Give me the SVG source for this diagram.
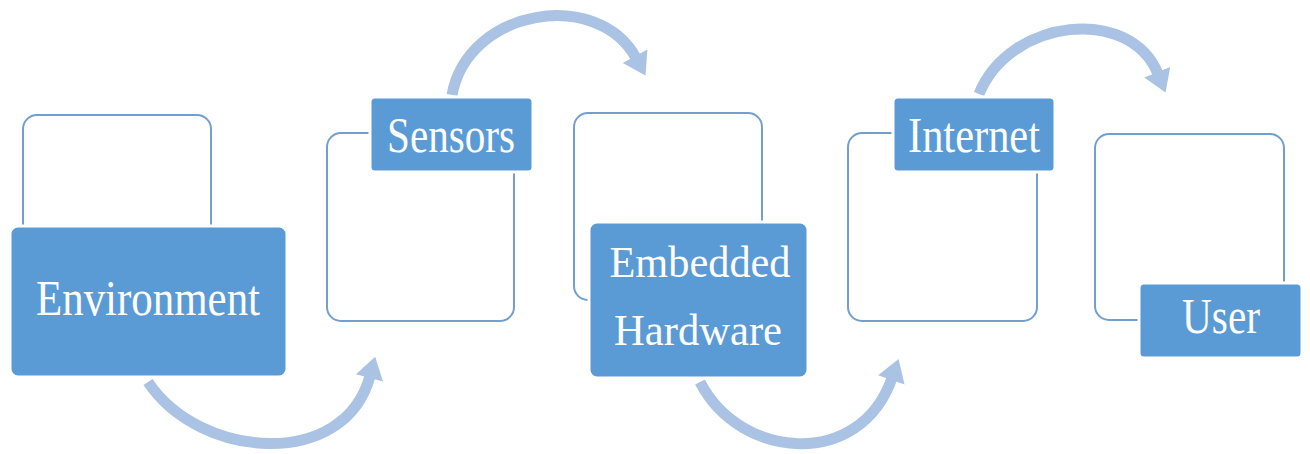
<svg xmlns="http://www.w3.org/2000/svg" width="1310" height="454" viewBox="0 0 1310 454">
<style>
.outline{fill:#ffffff;stroke:#739fcf;stroke-width:2}
.label{fill:#5b9bd5;stroke:#ffffff;stroke-width:3}
.txt{font-family:"Liberation Serif","Times New Roman",serif;fill:#ffffff;text-anchor:middle}
.arrow{fill:none;stroke:#aac3e4;stroke-width:11;marker-end:url(#head)}
</style>
<defs>
<marker id="head" markerUnits="userSpaceOnUse" markerWidth="28" markerHeight="28" viewBox="0 0 22 28" refX="2" refY="14" orient="auto">
<path d="M0,0 L22,14 L0,28 Z" fill="#aac3e4"/>
</marker>
</defs>
<rect width="1310" height="454" fill="#ffffff"/>
<g id="connectors">
<path class="arrow" d="M148,382 C200,460 345,470 370,376"/>
<path class="arrow" d="M452,95 C468,8 598,-12 636,58"/>
<path class="arrow" d="M700,382 C740,460 860,470 892,378"/>
<path class="arrow" d="M979,94 C1010,18 1130,5 1158,74"/>
</g>
<g id="environment">
<rect class="outline" x="23" y="115" width="188" height="190" rx="14"/>
<rect class="label" x="10" y="226" width="277" height="151" rx="8"/>
<text class="txt" x="148" y="315" font-size="50" textLength="224" lengthAdjust="spacingAndGlyphs">Environment</text>
</g>
<g id="sensors">
<rect class="outline" x="327" y="133" width="187" height="188" rx="14"/>
<rect class="label" x="370" y="97" width="163" height="75" rx="5"/>
<text class="txt" x="451" y="152" font-size="50" textLength="128" lengthAdjust="spacingAndGlyphs">Sensors</text>
</g>
<g id="embedded-hardware">
<rect class="outline" x="574" y="113" width="188" height="187" rx="14"/>
<rect class="label" x="589" y="222" width="219" height="156" rx="8"/>
<text class="txt" x="700" y="277" font-size="45" textLength="181" lengthAdjust="spacingAndGlyphs">Embedded</text>
<text class="txt" x="698" y="345" font-size="45" textLength="168" lengthAdjust="spacingAndGlyphs">Hardware</text>
</g>
<g id="internet">
<rect class="outline" x="848" y="133" width="189" height="188" rx="14"/>
<rect class="label" x="893" y="97" width="162" height="75" rx="5"/>
<text class="txt" x="974" y="152" font-size="50" textLength="132" lengthAdjust="spacingAndGlyphs">Internet</text>
</g>
<g id="user">
<rect class="outline" x="1095" y="134" width="189" height="186" rx="14"/>
<rect class="label" x="1139" y="283" width="163" height="75" rx="5"/>
<text class="txt" x="1221" y="333" font-size="50" textLength="78" lengthAdjust="spacingAndGlyphs">User</text>
</g>
</svg>
